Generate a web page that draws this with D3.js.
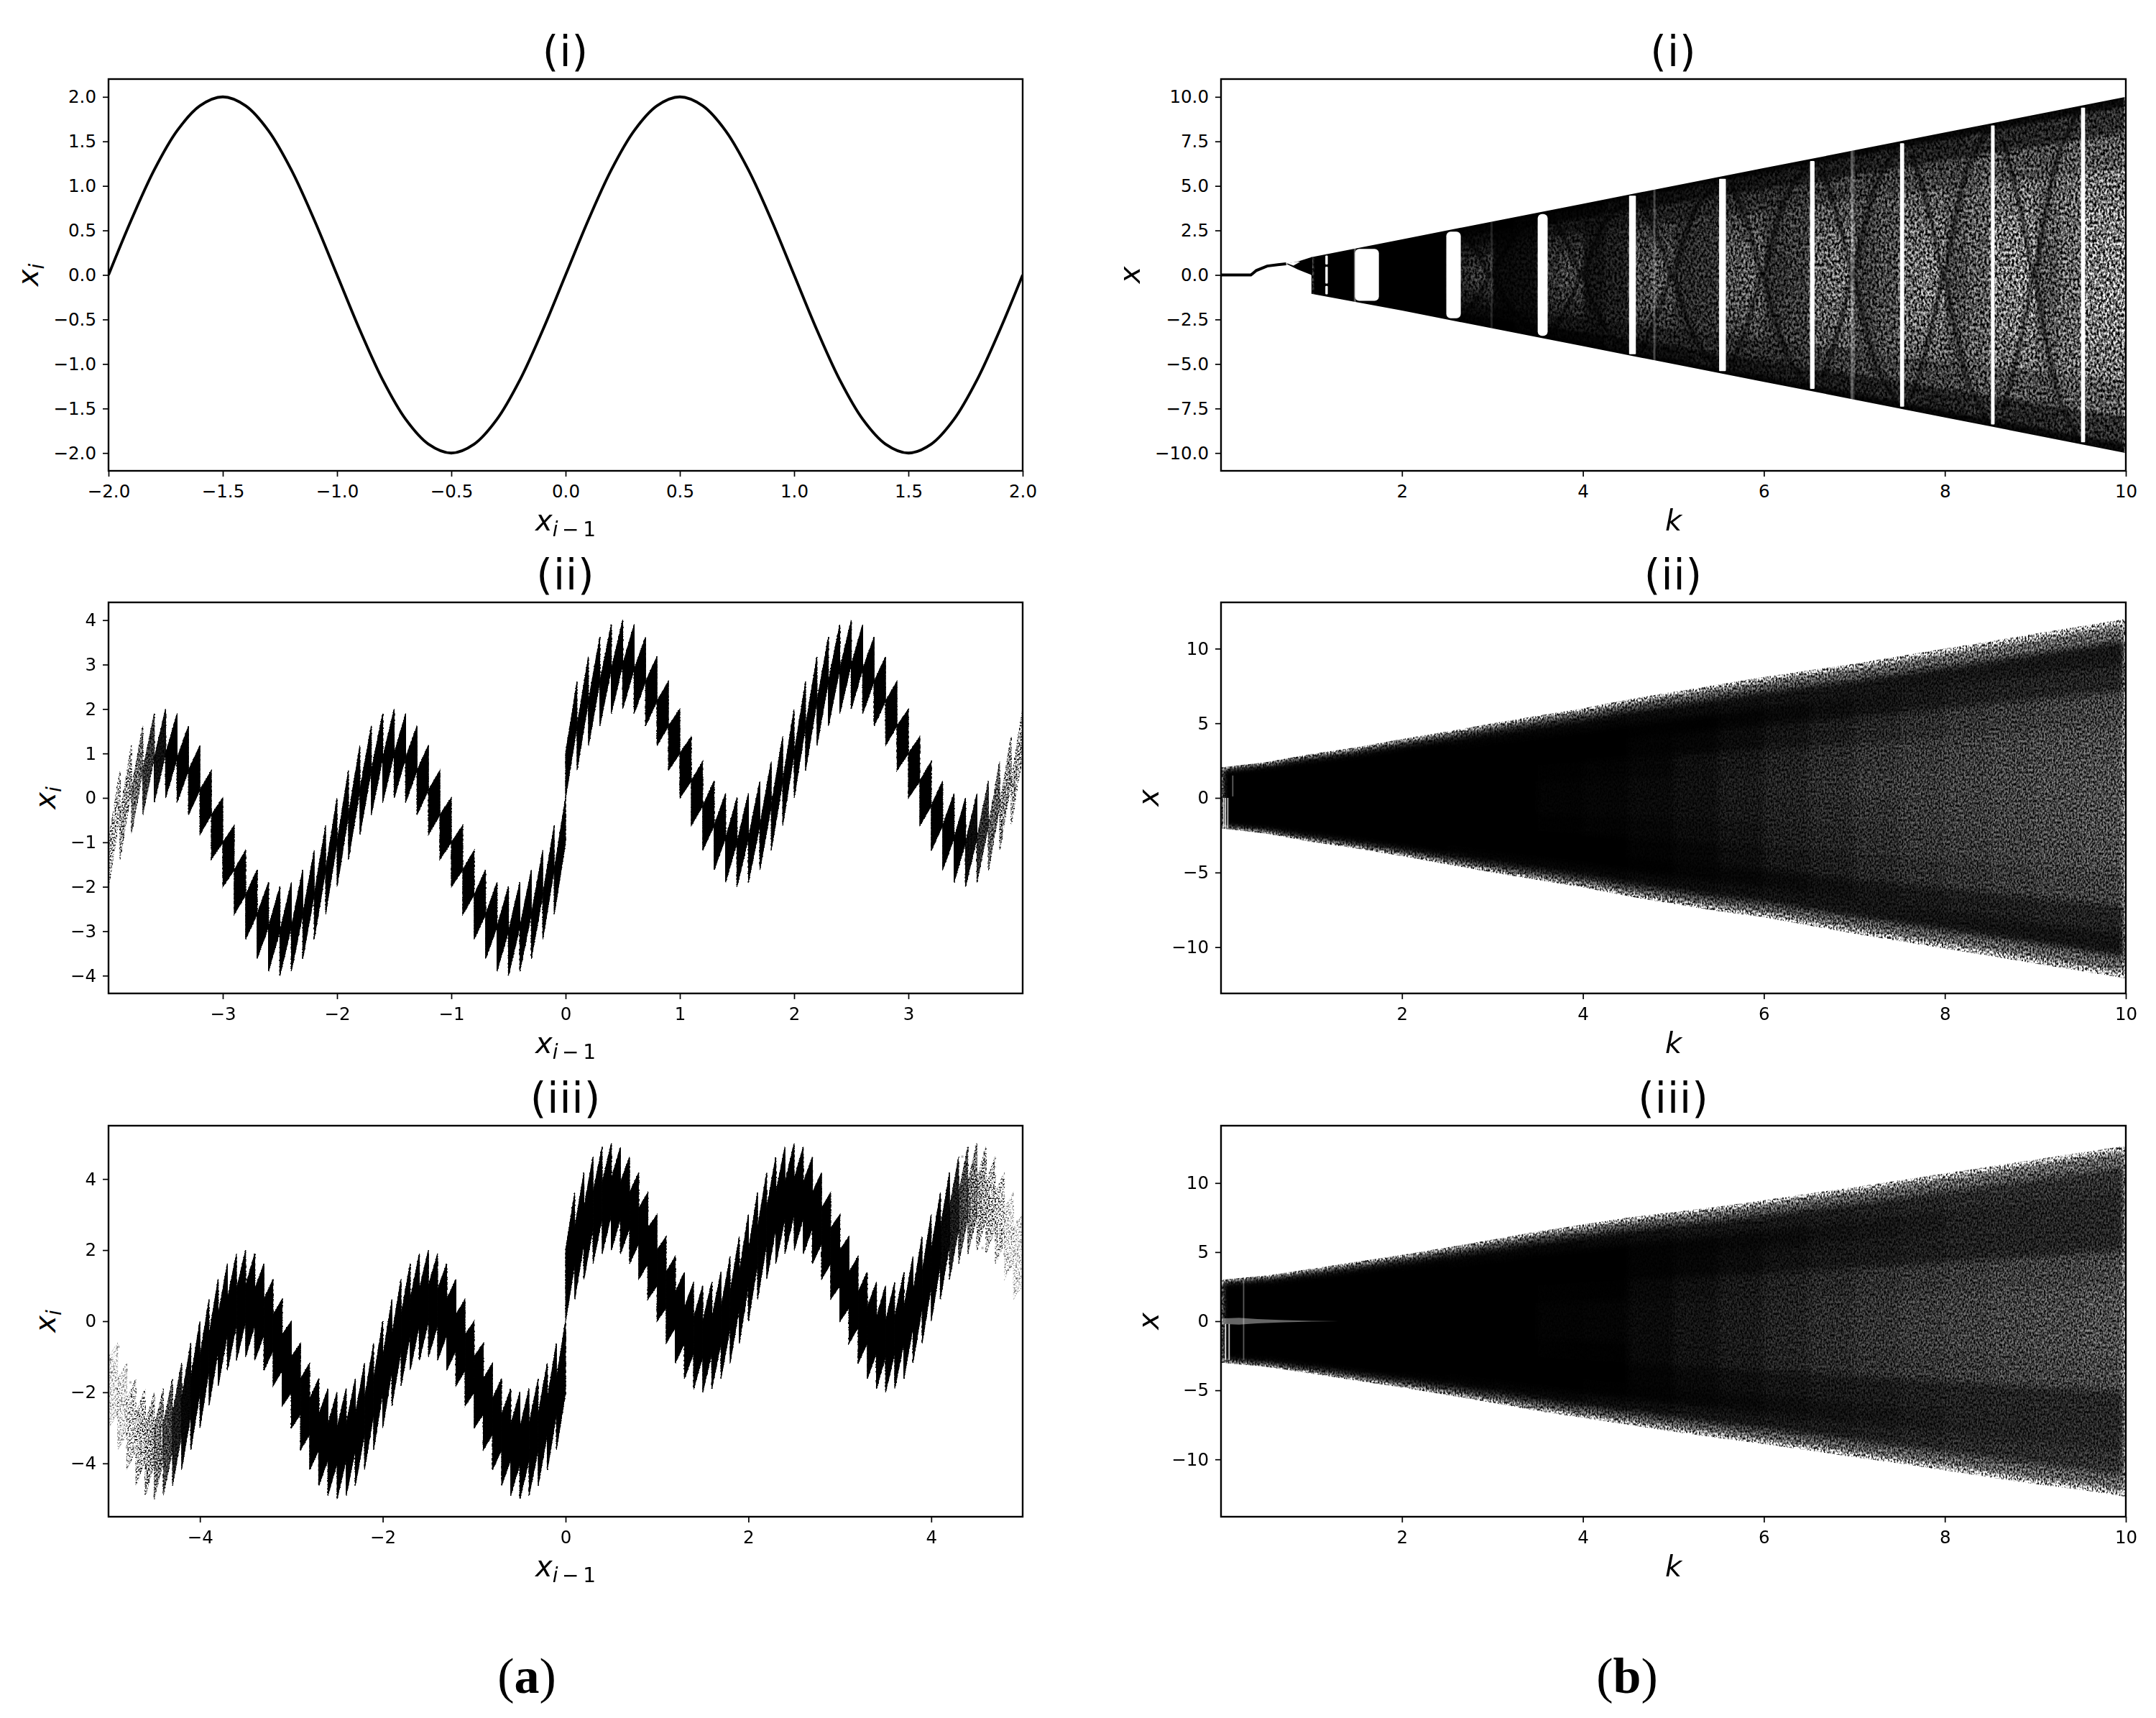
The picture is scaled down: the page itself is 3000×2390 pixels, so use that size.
<!DOCTYPE html>
<html>
<head>
<meta charset="utf-8">
<script src="https://cdn.jsdelivr.net/npm/d3@7"></script>
<style>
  html, body { margin: 0; padding: 0; background: #fff; }
  svg { display: block; }
  text { font-family: "DejaVu Sans", sans-serif; fill: #000; }
</style>
</head>
<body>
<div id="chart"></div>
<script>
// ---- panel (a)(i): return map, read every 0.1
const curveX = [-2,-1.9,-1.8,-1.7,-1.6,-1.5,-1.4,-1.3,-1.2,-1.1,-1,-0.9,-0.8,-0.7,-0.6,-0.5,-0.4,-0.3,-0.2,-0.1,0,
  0.1,0.2,0.3,0.4,0.5,0.6,0.7,0.8,0.9,1,1.1,1.2,1.3,1.4,1.5,1.6,1.7,1.8,1.9,2];
const curveY = [0,0.62,1.18,1.62,1.9,2,1.9,1.62,1.18,0.62,0,-0.62,-1.18,-1.62,-1.9,-2,-1.9,-1.62,-1.18,-0.62,0,
  0.62,1.18,1.62,1.9,2,1.9,1.62,1.18,0.62,0,-0.62,-1.18,-1.62,-1.9,-2,-1.9,-1.62,-1.18,-0.62,0];

// ---- panel (a)(ii): tooth tips along the top edge (x = 0 appears twice, the map jumps there)
const teethXii = [-4,-3.9,-3.8,-3.7,-3.6,-3.5,-3.4,-3.3,-3.2,-3.1,-3,-2.9,-2.8,-2.7,-2.6,-2.5,-2.4,-2.3,-2.2,-2.1,
  -2,-1.9,-1.8,-1.7,-1.6,-1.5,-1.4,-1.3,-1.2,-1.1,-1,-0.9,-0.8,-0.7,-0.6,-0.5,-0.4,-0.3,-0.2,-0.1,0,
  0,0.1,0.2,0.3,0.4,0.5,0.6,0.7,0.8,0.9,1,1.1,1.2,1.3,1.4,1.5,1.6,1.7,1.8,1.9,
  2,2.1,2.2,2.3,2.4,2.5,2.6,2.7,2.8,2.9,3,3.1,3.2,3.3,3.4,3.5,3.6,3.7,3.8,3.9,4];
const teethTopii = [0,0.62,1.18,1.62,1.9,2,1.9,1.62,1.18,0.62,0,-0.62,-1.18,-1.62,-1.9,-2,-1.9,-1.62,-1.18,-0.62,
  0,0.62,1.18,1.62,1.9,2,1.9,1.62,1.18,0.62,0,-0.62,-1.18,-1.62,-1.9,-2,-1.9,-1.62,-1.18,-0.62,0,
  2,2.62,3.18,3.62,3.9,4,3.9,3.62,3.18,2.62,2,1.38,0.82,0.38,0.1,0,0.1,0.38,0.82,1.38,
  2,2.62,3.18,3.62,3.9,4,3.9,3.62,3.18,2.62,2,1.38,0.82,0.38,0.1,0,0.1,0.38,0.82,1.38,2];
const fadeXii = [-4,-3.9,-3.8,-3.7,-3.6,-3.5,3.5,3.6,3.7,3.8,3.9,4];
const fadeOpii = [0.2,0.3,0.5,0.72,0.9,1,1,0.92,0.75,0.55,0.4,0.3];

// ---- panel (a)(iii)
const teethXiii = [-5,-4.9,-4.8,-4.7,-4.6,-4.5,-4.4,-4.3,-4.2,-4.1,-4,-3.9,-3.8,-3.7,-3.6,-3.5,-3.4,-3.3,-3.2,-3.1,
  -3,-2.9,-2.8,-2.7,-2.6,-2.5,-2.4,-2.3,-2.2,-2.1,-2,-1.9,-1.8,-1.7,-1.6,-1.5,-1.4,-1.3,-1.2,-1.1,
  -1,-0.9,-0.8,-0.7,-0.6,-0.5,-0.4,-0.3,-0.2,-0.1,0,
  0,0.1,0.2,0.3,0.4,0.5,0.6,0.7,0.8,0.9,1,1.1,1.2,1.3,1.4,1.5,1.6,1.7,1.8,1.9,
  2,2.1,2.2,2.3,2.4,2.5,2.6,2.7,2.8,2.9,3,3.1,3.2,3.3,3.4,3.5,3.6,3.7,3.8,3.9,
  4,4.1,4.2,4.3,4.4,4.5,4.6,4.7,4.8,4.9,5];
const teethTopiii = [0,-0.62,-1.18,-1.62,-1.9,-2,-1.9,-1.62,-1.18,-0.62,0,0.62,1.18,1.62,1.9,2,1.9,1.62,1.18,0.62,
  0,-0.62,-1.18,-1.62,-1.9,-2,-1.9,-1.62,-1.18,-0.62,0,0.62,1.18,1.62,1.9,2,1.9,1.62,1.18,0.62,
  0,-0.62,-1.18,-1.62,-1.9,-2,-1.9,-1.62,-1.18,-0.62,0,
  3,3.62,4.18,4.62,4.9,5,4.9,4.62,4.18,3.62,3,2.38,1.82,1.38,1.1,1,1.1,1.38,1.82,2.38,
  3,3.62,4.18,4.62,4.9,5,4.9,4.62,4.18,3.62,3,2.38,1.82,1.38,1.1,1,1.1,1.38,1.82,2.38,
  3,3.62,4.18,4.62,4.9,5,4.9,4.62,4.18,3.62,3];
const fadeXiii = [-5,-4.8,-4.7,-4.6,-4.5,-4.4,-4.3,-4.2,-4.1,4.1,4.2,4.3,4.4,4.5,4.6,4.7,4.8,5];
const fadeOpiii = [0.05,0.08,0.14,0.28,0.45,0.65,0.85,0.95,1,1,0.95,0.85,0.65,0.45,0.28,0.14,0.08,0.05];
const specksX = [-4.98,-4.97,-4.89,-4.8,-4.92,-4.87,-4.76,-4.71,-4.95,-4.81,-4.68,-4.8,-4.77,-4.65,-4.59,-4.5,-4.4,-4.89,-4.85,-4.57,
  4.94,4.92,4.94,4.92,4.86,4.79,4.75,4.68,4.64,4.49,4.58,4.34,4.71,4.56,4.8,4.98,4.9];
const specksY = [-1.09,-1.43,-0.72,-1.37,-1.89,-2.23,-1.72,-1.72,-2.35,-2.69,-3.03,-3.55,-3.95,-4.18,-4.81,-4.92,-4.63,-3.15,-3.32,-4.46,
  2.8,1.89,1.2,0.86,1.54,2.46,3.37,3.15,4.18,4.92,4.75,4.63,1.89,2.06,1.89,2.23,2.57];

// ---- panel (b)(i): bifurcation diagram
const stemK = [0,0.33,0.36,0.39,0.51,0.72];
const stemX = [0,0,0.12,0.25,0.5,0.63];
const wedgeK = [0.72,0.85,1,1,2,4,6,8,10];
const wedgeTop = [0.63,0.76,1,1,2,4,6,8,10];
const wedgeBottom = [0.63,0.3,0,-1.06,-2,-4,-6,-8,-10];
const lensK = [0.74,0.8,0.87];
const lensTop = [0.66,0.72,0.75];
const lensBottom = [0.64,0.52,0.73];
const gapK0 = [1.153,1.153,1.153,1.48,2.49,3.5,4.51,5.505,6.51,7.505,8.51,9.505];
const gapK1 = [1.18,1.18,1.18,1.745,2.65,3.61,4.585,5.58,6.56,7.55,8.55,9.55];
const gapTop = [1.09,0.46,-0.62,1.46,2.43,3.42,4.45,5.4,6.4,7.4,8.4,9.4];
const gapBottom = [0.59,-0.48,-1.09,-1.45,-2.43,-3.42,-4.45,-5.4,-6.4,-7.4,-8.4,-9.4];
const streakK = [1.48,2.99,4.79,6.97,6.99];
const streakOp = [0.35,0.12,0.25,0.3,0.2];
const stripKi = [1,1.25,1.5,1.75,2,2.25,2.5,2.75,3,3.25,3.5,3.75,4,4.25,4.5,4.75,5,5.25,5.5,5.75,6,6.25,6.5,6.75,7,7.25,7.5,7.75,8,8.25,8.5,8.75,9,9.25,9.5,9.75,10];
const stripRowsi = [1.2,1,0.95,0.8,0.6,0.4,0.2,0];
const stripShadei = [
  [1,1,1,1,1,1,1,1],[1,1,1,1,1,1,1,1],[1,1,1,1,1,1,1,1],[1,1,1,1,1,1,1,1],[1,1,1,1,1,1,1,1],[1,1,1,1,1,1,1,1],
  [1,1,1,0.98,0.94,0.9,0.88,0.88],[1,1,1,0.98,0.95,0.9,0.84,0.82],[1,1,1,1,0.98,0.97,0.97,0.97],[1,1,1,0.98,0.97,0.96,0.96,0.96],
  [1,1,1,0.97,0.9,0.86,0.84,0.84],[1,1,1,0.97,0.9,0.85,0.8,0.76],[1,1,1,0.96,0.93,0.93,0.93,0.94],[1,1,0.98,0.94,0.9,0.9,0.9,0.9],
  [1,1,0.98,0.93,0.84,0.78,0.76,0.76],[1,1,0.98,0.93,0.85,0.78,0.74,0.72],[1,1,0.98,0.92,0.86,0.85,0.85,0.86],[1,1,0.97,0.9,0.84,0.84,0.84,0.84],
  [1,1,0.97,0.9,0.8,0.74,0.72,0.72],[1,1,0.97,0.9,0.8,0.73,0.7,0.68],[1,1,0.97,0.88,0.82,0.82,0.82,0.84],[1,1,0.96,0.86,0.8,0.8,0.8,0.8],
  [1,1,0.96,0.86,0.74,0.68,0.66,0.66],[1,1,0.96,0.86,0.74,0.67,0.64,0.62],[1,1,0.96,0.84,0.77,0.77,0.78,0.8],[1,1,0.95,0.82,0.74,0.74,0.74,0.74],
  [1,1,0.95,0.82,0.7,0.64,0.62,0.62],[1,1,0.95,0.84,0.7,0.63,0.6,0.58],[1,1,0.95,0.82,0.72,0.72,0.73,0.76],[1,1,0.94,0.78,0.68,0.68,0.68,0.68],
  [1,1,0.94,0.8,0.66,0.6,0.58,0.58],[1,1,0.94,0.8,0.66,0.58,0.56,0.54],[1,1,0.94,0.8,0.68,0.68,0.7,0.74],[1,1,0.93,0.76,0.64,0.64,0.64,0.64],
  [1,1,0.93,0.76,0.62,0.56,0.54,0.54],[1,1,0.93,0.76,0.62,0.56,0.52,0.5]
];
// dark X arms: crossing points, then k offset and share of k along one arm
const armCentres = [3,4,5,6,7,8,9];
const armDk = [-0.34,-0.17,-0.07,0,0.12,0.27,0.5];
const armShare = [0.85,0.48,0.2,0,0.35,0.74,1.03];

// ---- panels (b)(ii) and (b)(iii): envelopes and density cells
const stripK = [0,0.5,1,1.5,2,2.5,3,3.5,4,4.5,5,5.5,6,6.5,7,7.5,8,8.5,9,9.5,10];
const stripRows = [1,0.97,0.88,0.75,0.6,0.4,0.2,0,-0.2,-0.4,-0.6,-0.75,-0.88,-0.97,-1];
const edgeTopii = [2.05,2.4,2.95,3.4,3.95,4.45,5,5.5,6,6.6,7.1,7.6,8.1,8.55,9,9.5,10,10.5,11,11.5,12];
const edgeBottomii = [-2.05,-2.4,-2.95,-3.4,-3.9,-4.45,-5,-5.5,-6,-6.6,-7.1,-7.6,-8,-8.55,-9.1,-9.6,-10.1,-10.6,-11.1,-11.6,-12.1];
const shadeii = [
  [0.3,0.9,1,1,1,1,1,1,1,1,1,1,1,0.9,0.3],[0.2,0.8,1,1,1,1,1,1,1,1,1,1,1,0.8,0.2],
  [0.15,0.7,1,1,1,1,1,1,1,1,1,1,1,0.7,0.15],[0.15,0.7,1,1,1,1,1,1,1,1,1,1,1,0.7,0.15],
  [0.15,0.68,1,1,1,1,1,1,1,1,1,1,1,0.68,0.15],[0.15,0.65,0.98,1,1,1,1,1,1,1,1,1,0.98,0.65,0.15],
  [0.15,0.62,0.97,1,1,1,1,1,1,1,1,1,0.97,0.62,0.15],[0.14,0.6,0.96,1,1,1,0.99,0.99,0.99,1,1,1,0.96,0.6,0.14],
  [0.12,0.55,0.95,1,1,1,0.98,0.98,0.98,1,1,1,0.95,0.55,0.12],[0.12,0.52,0.94,0.99,1,0.98,0.97,0.96,0.97,0.98,1,0.99,0.94,0.52,0.12],
  [0.12,0.5,0.92,0.99,1,0.96,0.93,0.95,0.94,0.97,0.98,0.99,0.92,0.5,0.12],[0.12,0.5,0.9,0.99,0.98,0.93,0.9,0.9,0.92,0.94,0.96,0.99,0.9,0.5,0.12],
  [0.12,0.5,0.88,0.99,0.95,0.9,0.86,0.88,0.88,0.9,0.93,0.99,0.88,0.5,0.12],[0.12,0.48,0.87,0.98,0.92,0.87,0.82,0.85,0.85,0.88,0.9,0.98,0.87,0.48,0.12],
  [0.12,0.48,0.86,0.98,0.88,0.84,0.78,0.82,0.82,0.85,0.86,0.98,0.86,0.48,0.12],[0.12,0.48,0.86,0.98,0.84,0.82,0.76,0.8,0.78,0.82,0.84,0.98,0.87,0.48,0.12],
  [0.1,0.45,0.85,0.98,0.8,0.8,0.74,0.78,0.76,0.8,0.82,0.97,0.88,0.45,0.1],[0.1,0.45,0.85,0.98,0.78,0.78,0.72,0.76,0.74,0.78,0.8,0.97,0.88,0.45,0.1],
  [0.1,0.45,0.85,0.98,0.76,0.76,0.7,0.74,0.72,0.76,0.78,0.97,0.88,0.45,0.1],[0.1,0.45,0.85,0.98,0.76,0.74,0.7,0.72,0.7,0.74,0.78,0.97,0.88,0.45,0.1]
];
const edgeTopiii = [3,3.3,3.8,4.3,4.8,5.35,5.9,6.5,7,7.5,7.9,8.3,8.75,9.25,9.7,10.2,10.7,11.2,11.7,12.2,12.7];
const edgeBottomiii = [-3,-3.3,-3.8,-4.3,-4.8,-5.35,-5.9,-6.5,-7,-7.5,-8,-8.45,-8.9,-9.35,-9.85,-10.3,-10.8,-11.3,-11.8,-12.2,-12.7];
const shadeiii = [
  [0.3,0.9,1,1,1,1,1,1,1,1,1,1,1,0.9,0.3],[0.2,0.8,1,1,1,1,1,1,1,1,1,1,1,0.8,0.2],
  [0.15,0.7,1,1,1,1,1,1,1,1,1,1,1,0.7,0.15],[0.15,0.7,1,1,1,1,1,1,1,1,1,1,1,0.7,0.15],
  [0.15,0.66,0.99,1,1,1,1,1,1,1,1,1,0.99,0.66,0.15],[0.15,0.62,0.98,1,1,1,1,1,1,1,1,1,0.98,0.62,0.15],
  [0.14,0.58,0.96,1,1,1,1,1,1,1,1,1,0.96,0.58,0.14],[0.13,0.55,0.95,1,1,1,0.99,0.99,0.99,1,1,1,0.95,0.55,0.13],
  [0.12,0.52,0.93,1,1,1,0.99,0.98,0.99,1,1,0.99,0.93,0.52,0.12],[0.12,0.5,0.92,0.98,1,0.98,0.96,0.96,0.96,0.97,1,0.98,0.92,0.5,0.12],
  [0.12,0.48,0.9,0.96,1,0.95,0.93,0.93,0.93,0.94,0.99,0.96,0.9,0.48,0.12],[0.12,0.48,0.9,0.95,0.99,0.92,0.9,0.9,0.9,0.91,0.98,0.95,0.9,0.48,0.12],
  [0.12,0.46,0.9,0.93,0.98,0.89,0.87,0.87,0.87,0.88,0.97,0.93,0.9,0.46,0.12],[0.12,0.46,0.9,0.9,0.97,0.86,0.84,0.84,0.84,0.85,0.97,0.9,0.9,0.46,0.12],
  [0.12,0.44,0.9,0.87,0.97,0.84,0.81,0.81,0.81,0.83,0.97,0.87,0.9,0.44,0.12],[0.1,0.44,0.9,0.84,0.97,0.82,0.79,0.78,0.79,0.81,0.96,0.84,0.9,0.44,0.1],
  [0.1,0.42,0.9,0.8,0.96,0.8,0.77,0.76,0.77,0.79,0.96,0.8,0.9,0.42,0.1],[0.1,0.42,0.9,0.78,0.96,0.78,0.75,0.74,0.75,0.77,0.96,0.78,0.9,0.42,0.1],
  [0.1,0.42,0.9,0.76,0.96,0.77,0.74,0.72,0.74,0.76,0.96,0.76,0.9,0.42,0.1],[0.1,0.42,0.9,0.75,0.96,0.76,0.72,0.7,0.72,0.75,0.96,0.75,0.9,0.42,0.1]
];
// thin white slits at very small k
const slitKii = [0.03,0.05,0.075,0.13];
const slitTopii = [0,0,0,1.5];
const slitBottomii = [-2,-2,-2,0.1];
const slitOpii = [0.8,0.9,0.8,0.4];
const slitKiii = [0.05,0.09,0.25];
const slitTopiii = [-0.2,-0.2,3];
const slitBottomiii = [-2.8,-2.8,-2.8];
const slitOpiii = [0.9,0.8,0.35];
// pale streak along x = 0 in (b)(iii)
const holeK = [0,0.2,0.4,0.7,1,1.3];
const holeHalf = [0.2,0.25,0.15,0.08,0.03,0];

const ticksA1X = [-2,-1.5,-1,-0.5,0,0.5,1,1.5,2];
const ticksA1Y = [-2,-1.5,-1,-0.5,0,0.5,1,1.5,2];
const ticksA2X = [-3,-2,-1,0,1,2,3];
const ticksA2Y = [-4,-3,-2,-1,0,1,2,3,4];
const ticksA3X = [-4,-2,0,2,4];
const ticksA3Y = [-4,-2,0,2,4];
const ticksK = [2,4,6,8,10];
const ticksB1Y = [-10,-7.5,-5,-2.5,0,2.5,5,7.5,10];
const ticksB2Y = [-10,-5,0,5,10];

const W = 3000, H = 2390;
const svg = d3.select('#chart').append('svg').attr('width', W).attr('height', H);
const defs = svg.append('defs');
let uid = 0;

const colLeft = [151, 1423];
const colRight = [1699, 2958];
const rows = [[110, 655], [838, 1382], [1566, 2110]];
const num1 = v => d3.format('.1f')(v).replace('-', '\u2212');
const num0 = v => d3.format('d')(v).replace('-', '\u2212');

function makePanel(col, row, xDomain, yDomain) {
    const x = d3.scaleLinear().domain(xDomain).range(col);
    const y = d3.scaleLinear().domain(yDomain).range([row[1], row[0]]);
    const id = 'clip' + (uid++);
    defs.append('clipPath').attr('id', id).append('rect')
        .attr('x', col[0]).attr('y', row[0])
        .attr('width', col[1] - col[0]).attr('height', row[1] - row[0]);
    const marks = svg.append('g').attr('clip-path', `url(#${id})`);
    return { x, y, col, row, marks };
}

function finishPanel(p, xTicks, yTicks, xFormat, yFormat) {
    svg.append('rect')
        .attr('x', p.col[0]).attr('y', p.row[0])
        .attr('width', p.col[1] - p.col[0]).attr('height', p.row[1] - p.row[0])
        .attr('fill', 'none').attr('stroke', '#000').attr('stroke-width', 2.4);

    const gx = svg.append('g').attr('transform', `translate(0,${p.row[1]})`)
        .call(d3.axisBottom(p.x).tickValues(xTicks).tickFormat(xFormat).tickSize(8).tickPadding(12));
    const gy = svg.append('g').attr('transform', `translate(${p.col[0]},0)`)
        .call(d3.axisLeft(p.y).tickValues(yTicks).tickFormat(yFormat).tickSize(8).tickPadding(9));
    [gx, gy].forEach(g => {
        g.select('.domain').remove();
        g.selectAll('line').attr('stroke', '#000').attr('stroke-width', 1.7);
        g.selectAll('text').attr('font-size', 24.5).attr('font-family', '"DejaVu Sans", sans-serif').attr('fill', '#000');
    });
}

// surface grain only: solid black stays solid, the paler a mark's read shade
// the stronger it breaks into specks, nothing is drawn where there is no mark
function makeGrain(freq, seed, blur, p, g) {
    const id = 'grain' + (uid++);
    const f = defs.append('filter').attr('id', id)
        .attr('filterUnits', 'userSpaceOnUse')
        .attr('x', p.col[0]).attr('y', p.row[0])
        .attr('width', p.col[1] - p.col[0]).attr('height', p.row[1] - p.row[0])
        .attr('color-interpolation-filters', 'sRGB');
    f.append('feTurbulence').attr('type', 'fractalNoise')
        .attr('baseFrequency', freq).attr('numOctaves', 2).attr('seed', seed).attr('result', 'noise');
    f.append('feColorMatrix').attr('in', 'noise').attr('type', 'matrix')
        .attr('values', '0 0 0 0 0  0 0 0 0 0  0 0 0 0 0  0 0 0 2.4 -0.7').attr('result', 'speck');
    f.append('feGaussianBlur').attr('in', 'SourceAlpha').attr('stdDeviation', blur).attr('result', 'shade');
    f.append('feComposite').attr('in', 'shade').attr('in2', 'speck').attr('operator', 'arithmetic')
        .attr('k1', -g).attr('k2', 1 + g / 2).attr('k3', g).attr('k4', -g / 2).attr('result', 'grainy');
    const transfer = f.append('feComponentTransfer').attr('in', 'shade').attr('result', 'mask');
    transfer.append('feFuncA').attr('type', 'linear').attr('slope', 8);
    f.append('feComposite').attr('in', 'grainy').attr('in2', 'mask').attr('operator', 'in');
    return `url(#${id})`;
}

// tooth band: a parallelogram between neighbouring grid points
function drawTeeth(p, xs, tops, depth, body, fadeX, fadeOp) {
    const fade = d3.scaleLinear().domain(fadeX).range(fadeOp).clamp(true);
    const pairs = d3.pairs(d3.range(xs.length)).filter(([a, b]) => xs[a] !== xs[b]);
    p.marks.append('g').attr('filter', makeGrain(0.45, 5, 0.01, p, 2.2))
        .selectAll('path').data(pairs).join('path')
        .attr('d', ([a, b]) => {
            const low = tops[a] - depth;
            return d3.line()([
                [p.x(xs[a]), p.y(low)],
                [p.x(xs[a]), p.y(low + body)],
                [p.x(xs[b]), p.y(tops[b])],
                [p.x(xs[b]), p.y(tops[b] - body)]
            ]) + 'Z';
        })
        .attr('fill', '#000')
        .attr('stroke', '#000').attr('stroke-width', 1.2)
        .attr('opacity', ([a, b]) => fade((xs[a] + xs[b]) / 2));
}

// density cells: quadrilaterals that follow the rays between the envelopes
function drawCells(g, p, ks, rowsU, shades, topAt, bottomAt) {
    const at = (i, u) => {
        const mid = (topAt(i) + bottomAt(i)) / 2, half = (topAt(i) - bottomAt(i)) / 2;
        return [p.x(ks[i]), p.y(mid + u * half)];
    };
    shades.forEach((column, i) => {
        d3.pairs(rowsU).forEach(([u0, u1], r) => {
            g.append('path')
                .attr('d', d3.line()([at(i, u0), at(i + 1, u0), at(i + 1, u1), at(i, u1)]) + 'Z')
                .attr('fill', '#000')
                .attr('shape-rendering', 'crispEdges')
                .attr('opacity', (column[r] + column[r + 1]) / 2);
        });
    });
}

function clipToEnvelope(p, ks, tops, bottoms) {
    const id = 'env' + (uid++);
    const area = d3.area().x((d, i) => p.x(ks[i])).y0((d, i) => p.y(bottoms[i])).y1((d, i) => p.y(tops[i]));
    defs.append('clipPath').attr('id', id).append('path').attr('d', area(ks));
    return p.marks.append('g').attr('clip-path', `url(#${id})`);
}

function drawSlits(p, ks, tops, bottoms, ops, w) {
    p.marks.append('g').selectAll('rect').data(ks).join('rect')
        .attr('x', d => p.x(d) - w / 2).attr('width', w)
        .attr('y', (d, i) => p.y(tops[i]))
        .attr('height', (d, i) => p.y(bottoms[i]) - p.y(tops[i]))
        .attr('fill', '#fff').attr('opacity', (d, i) => ops[i]);
}

// (a)(i)
const a1 = makePanel(colLeft, rows[0], [-2, 2], [-2.2, 2.2]);
a1.marks.append('path')
    .attr('d', d3.line().x((d, i) => a1.x(curveX[i])).y((d, i) => a1.y(curveY[i])).curve(d3.curveCatmullRom)(curveX))
    .attr('fill', 'none').attr('stroke', '#000').attr('stroke-width', 3.8);
finishPanel(a1, ticksA1X, ticksA1Y, num1, num1);

// (a)(ii)
const a2 = makePanel(colLeft, rows[1], [-4, 4], [-4.4, 4.4]);
drawTeeth(a2, teethXii, teethTopii, 2, 1, fadeXii, fadeOpii);
finishPanel(a2, ticksA2X, ticksA2Y, num0, num0);

// (a)(iii)
const a3 = makePanel(colLeft, rows[2], [-5, 5], [-5.5, 5.5]);
drawTeeth(a3, teethXiii, teethTopiii, 3, 2, fadeXiii, fadeOpiii);
a3.marks.append('g').selectAll('rect').data(specksX).join('rect')
    .attr('x', (d) => a3.x(d) - 1.5).attr('y', (d, i) => a3.y(specksY[i]) - 1.5)
    .attr('width', 3).attr('height', 3).attr('fill', '#000').attr('opacity', 0.3);
finishPanel(a3, ticksA3X, ticksA3Y, num0, num0);

// (b)(i)
const b1 = makePanel(colRight, rows[0], [0, 10], [-11, 11]);
b1.marks.append('path')
    .attr('d', d3.line().x((d, i) => b1.x(stemK[i])).y((d, i) => b1.y(stemX[i]))(stemK))
    .attr('fill', 'none').attr('stroke', '#000').attr('stroke-width', 4);
const b1Env = clipToEnvelope(b1, wedgeK, wedgeTop, wedgeBottom);
b1Env.append('rect')
    .attr('x', b1.x(0.7)).attr('width', b1.x(1.01) - b1.x(0.7))
    .attr('y', b1.y(3)).attr('height', b1.y(-3) - b1.y(3)).attr('fill', '#000');
const b1Cells = b1Env.append('g').attr('filter', makeGrain('0.34 0.24', 3, 2, b1, 2.2));
const fullRows = stripRowsi.concat(stripRowsi.slice(0, -1).reverse().map(u => -u));
drawCells(b1Cells, b1, stripKi, fullRows,
    stripShadei.map(r => r.concat(r.slice(0, -1).reverse())),
    i => stripKi[i], i => -stripKi[i]);
const armLine = d3.line().curve(d3.curveCatmullRom);
armCentres.forEach(c => {
    [1, -1].forEach(sign => {
        b1Cells.append('path')
            .attr('d', armLine(armDk.map((dk, i) => [b1.x(c + dk - 0.02), b1.y(sign * armShare[i] * c)])))
            .attr('fill', 'none').attr('stroke', '#000')
            .attr('stroke-width', 5).attr('opacity', 0.7);
    });
});
b1Env.append('g').selectAll('rect').data(streakK).join('rect')
    .attr('x', d => b1.x(d) - 1.5).attr('width', 3)
    .attr('y', b1.y(11)).attr('height', b1.y(-11) - b1.y(11))
    .attr('fill', '#fff').attr('opacity', (d, i) => streakOp[i]);
b1.marks.append('path')
    .attr('d', d3.area().x((d, i) => b1.x(lensK[i])).y0((d, i) => b1.y(lensBottom[i])).y1((d, i) => b1.y(lensTop[i]))(lensK))
    .attr('fill', '#fff');
b1.marks.append('g').selectAll('rect').data(gapK0).join('rect')
    .attr('x', d => b1.x(d))
    .attr('width', (d, i) => b1.x(gapK1[i]) - b1.x(d))
    .attr('y', (d, i) => b1.y(gapTop[i]))
    .attr('height', (d, i) => b1.y(gapBottom[i]) - b1.y(gapTop[i]))
    .attr('rx', (d, i) => i === 3 || i === 4 || i === 5 ? 6 : 1)
    .attr('fill', '#fff');
finishPanel(b1, ticksK, ticksB1Y, num0, num1);

// (b)(ii)
const b2 = makePanel(colRight, rows[1], [0, 10], [-13.1, 13.1]);
const b2Env = clipToEnvelope(b2, stripK, edgeTopii, edgeBottomii);
drawCells(b2Env.append('g').attr('filter', makeGrain('0.45 0.3', 7, 4, b2, 1.8)), b2, stripK, stripRows, shadeii,
    i => edgeTopii[i], i => edgeBottomii[i]);
drawSlits(b2, slitKii, slitTopii, slitBottomii, slitOpii, 1.6);
finishPanel(b2, ticksK, ticksB2Y, num0, num0);

// (b)(iii)
const b3 = makePanel(colRight, rows[2], [0, 10], [-14.15, 14.15]);
const b3Env = clipToEnvelope(b3, stripK, edgeTopiii, edgeBottomiii);
drawCells(b3Env.append('g').attr('filter', makeGrain('0.45 0.3', 11, 4, b3, 1.8)), b3, stripK, stripRows, shadeiii,
    i => edgeTopiii[i], i => edgeBottomiii[i]);
b3.marks.append('path')
    .attr('d', d3.area().x((d, i) => b3.x(holeK[i])).y0((d, i) => b3.y(-holeHalf[i])).y1((d, i) => b3.y(holeHalf[i]))(holeK))
    .attr('fill', '#fff').attr('opacity', 0.4);
drawSlits(b3, slitKiii, slitTopiii, slitBottomiii, slitOpiii, 1.8);
finishPanel(b3, ticksK, ticksB2Y, num0, num0);

// titles
const titles = ['(i)', '(ii)', '(iii)'];
[colLeft, colRight].forEach(col => {
    rows.forEach((row, r) => {
        svg.append('text')
            .attr('x', (col[0] + col[1]) / 2).attr('y', row[0] - 18)
            .attr('text-anchor', 'middle')
            .attr('font-size', 58).attr('letter-spacing', 1)
            .text(titles[r]);
    });
});

// axis labels, mathtext style
function mathLabel(sel, base, subOblique, subRest) {
    sel.attr('text-anchor', 'middle').attr('font-size', 40);
    sel.append('tspan').attr('font-style', 'oblique').text(base);
    if (subOblique) sel.append('tspan').attr('font-style', 'oblique').attr('font-size', 28).attr('dy', 8).text(subOblique);
    if (subRest) sel.append('tspan').attr('font-size', 28).text(subRest);
}
const labelXa = ['x', 'i', '\u2009\u2212\u20091'];
rows.forEach(row => {
    mathLabel(svg.append('text').attr('x', (colLeft[0] + colLeft[1]) / 2).attr('y', row[1] + 83),
        labelXa[0], labelXa[1], labelXa[2]);
    mathLabel(svg.append('text').attr('x', (colRight[0] + colRight[1]) / 2).attr('y', row[1] + 83), 'k');
});
const labelYaX = [53, 77, 77];
const labelYbX = [1586, 1612, 1612];
rows.forEach((row, r) => {
    const mid = (row[0] + row[1]) / 2;
    mathLabel(svg.append('text').attr('transform', `translate(${labelYaX[r]},${mid}) rotate(-90)`), 'x', 'i');
    mathLabel(svg.append('text').attr('transform', `translate(${labelYbX[r]},${mid}) rotate(-90)`), 'x');
});

// panel letters
const letters = ['a', 'b'];
const letterX = [733, 2264];
letters.forEach((l, i) => {
    const t = svg.append('text').attr('x', letterX[i]).attr('y', 2355)
        .attr('text-anchor', 'middle').attr('font-size', 70)
        .style('font-family', '"Liberation Serif", serif');
    t.append('tspan').text('(');
    t.append('tspan').attr('font-weight', 'bold').text(l);
    t.append('tspan').text(')');
});
</script>
</body>
</html>
